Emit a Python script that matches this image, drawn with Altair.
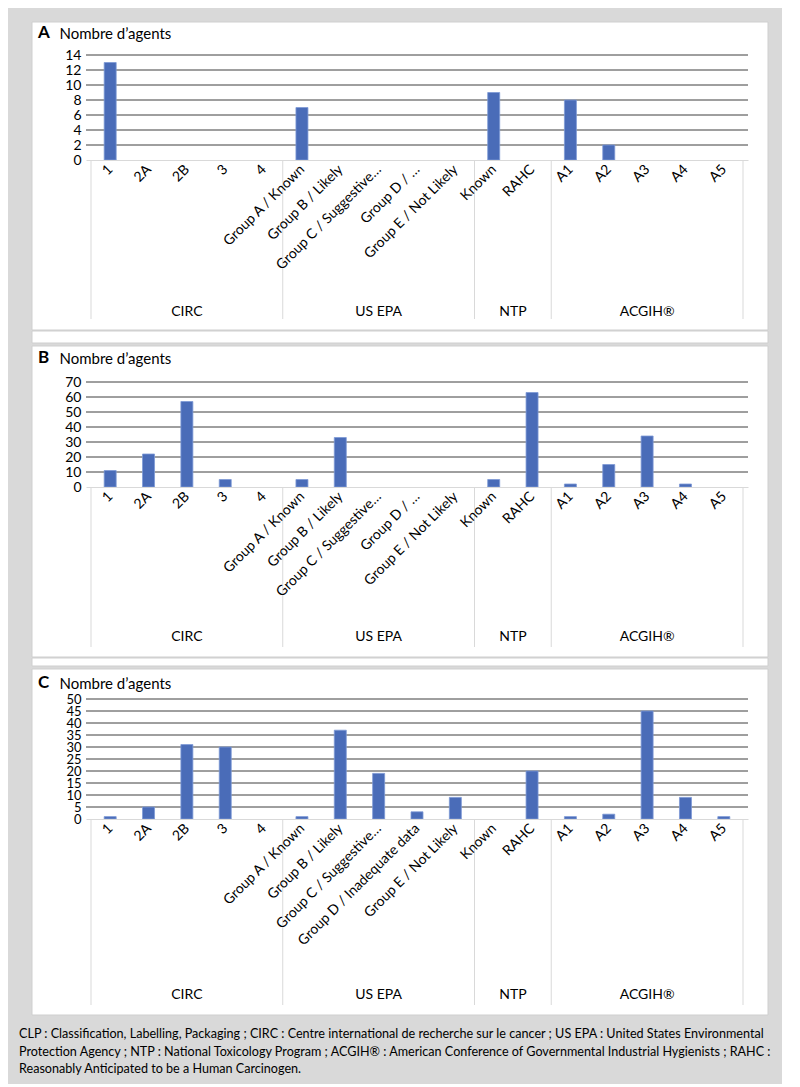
import json
import altair as alt
import pandas as pd

# ---------------- data ----------------
labels_AB = ["1", "2A", "2B", "3", "4",
             "Group A / Known", "Group B / Likely", "Group C / Suggestive…",
             "Group D / …", "Group E / Not Likely",
             "Known", "RAHC",
             "A1", "A2", "A3", "A4", "A5"]
labels_C = ["1", "2A", "2B", "3", "4",
            "Group A / Known", "Group B / Likely", "Group C / Suggestive…",
            "Group D / Inadequate data", "Group E / Not Likely",
            "Known", "RAHC",
            "A1", "A2", "A3", "A4", "A5"]

values_A = [13, 0, 0, 0, 0, 7, 0, 0, 0, 0, 9, 0, 8, 2, 0, 0, 0]
values_B = [11, 22, 57, 5, 0, 5, 33, 0, 0, 0, 5, 63, 2, 15, 34, 2, 0]
values_C = [1, 5, 31, 30, 0, 1, 37, 19, 3, 9, 0, 20, 1, 2, 45, 9, 1]

groups = ["CIRC", "US EPA", "NTP", "ACGIH®"]
group_sizes = [5, 5, 2, 5]

y_title = "Nombre d’agents"
caption_lines = [
    "CLP : Classification, Labelling, Packaging ; CIRC : Centre international de recherche sur le cancer ; US EPA : United States Environmental",
    "Protection Agency ; NTP : National Toxicology Program ; ACGIH® : American Conference of Governmental Industrial Hygienists ; RAHC :",
    "Reasonably Anticipated to be a Human Carcinogen.",
]

# ---------------- style ----------------
FONT = "Lato"
BAR_FILL = "#4a6cb8"
BAR_STROKE = "#7d99d6"
GRID = "#3f3f3f"
SEP = "#d9d9d9"
W = 662


def panel(letter, labels, values, ymax, ystep, h, rect_top, rect_bottom,
          strip, title_y, glabel_y, sep_len, ylab_size=14, caption=None):
    n = len(labels)
    df = pd.DataFrame({"pos": [i + 0.5 for i in range(n)], "value": values})
    xscale = alt.Scale(domain=[0, n], nice=False, zero=False)
    yscale = alt.Scale(domain=[0, ymax], nice=False)

    bounds = [0]
    for s in group_sizes:
        bounds.append(bounds[-1] + s)
    centers = [(bounds[i] + bounds[i + 1]) / 2 for i in range(len(groups))]
    gdf = pd.DataFrame({"group": groups, "center": centers})
    bdf = pd.DataFrame({"b": bounds})
    grid_df = pd.DataFrame({"v": list(range(ystep, ymax + 1, ystep))})
    one = pd.DataFrame({"k": [0]})

    label_expr = json.dumps(labels, ensure_ascii=False) + "[floor(datum.value)]"
    xaxis = alt.Axis(
        values=[i + 0.5 for i in range(n)], labelExpr=label_expr,
        labelAngle=315, labelAlign="right", labelBaseline="middle",
        labelPadding=7, labelFont=FONT, labelFontSize=14, labelColor="black",
        labelOverlap=False, labelFlush=False, ticks=False, grid=False,
        domain=True, domainColor=SEP, domainWidth=1, title=None, zindex=1)
    yaxis = alt.Axis(
        values=list(range(0, ymax + 1, ystep)), grid=False, domain=False, ticks=False,
        labelFont=FONT, labelFontSize=ylab_size, labelColor="black", labelPadding=5,
        labelFlush=False, labelOverlap=False,
        title=y_title, titleAngle=0, titleAlign="left", titleBaseline="alphabetic",
        titleX=-27, titleY=title_y, titleFont=FONT, titleFontSize=15,
        titleFontWeight="normal", titleColor="black", zindex=1)

    layers = [alt.Chart(one).mark_rect(fill="white", stroke="#cfcfcf", strokeWidth=1).encode(
        x=alt.value(-54), x2=alt.value(W + 20),
        y=alt.value(rect_top), y2=alt.value(rect_bottom))]
    if strip is not None:
        layers.append(alt.Chart(one).mark_rect(fill="white", stroke="#cfcfcf", strokeWidth=1).encode(
            x=alt.value(-54), x2=alt.value(W + 20),
            y=alt.value(strip[0]), y2=alt.value(strip[1])))

    bars = alt.Chart(df).transform_filter("datum.value > 0").mark_bar(
        size=12, fill=BAR_FILL, stroke=BAR_STROKE, strokeWidth=0.8
    ).encode(
        x=alt.X("pos:Q", scale=xscale, axis=xaxis),
        y=alt.Y("value:Q", scale=yscale, axis=yaxis),
    )
    grid = alt.Chart(grid_df).mark_rule(color=GRID, strokeWidth=1).encode(
        y=alt.Y("v:Q", scale=yscale, axis=yaxis),
        x=alt.value(0), x2=alt.value(W))
    seps = alt.Chart(bdf).mark_rule(color=SEP, strokeWidth=1).encode(
        x=alt.X("b:Q", scale=xscale, axis=xaxis),
        y=alt.value(h), y2=alt.value(h + sep_len))
    glabels = alt.Chart(gdf).mark_text(font=FONT, fontSize=14, color="black",
                                       align="center", baseline="alphabetic").encode(
        x=alt.X("center:Q", scale=xscale, axis=xaxis),
        y=alt.value(glabel_y), text="group:N")
    letter_t = alt.Chart(pd.DataFrame({"t": [letter]})).mark_text(
        font=FONT, fontSize=17, fontWeight="bold", color="black",
        align="left", baseline="alphabetic").encode(
        x=alt.value(-48), y=alt.value(title_y), text="t:N")

    layers += [grid, seps, bars, glabels, letter_t]

    if caption is not None:
        for i, line in enumerate(caption):
            layers.append(alt.Chart(pd.DataFrame({"t": [line]})).mark_text(
                font=FONT, fontSize=12.6, color="black", align="left",
                baseline="middle").encode(
                x=alt.value(-67), y=alt.value(rect_bottom + 19 + 17.5 * i), text="t:N"))
    return alt.layer(*layers).properties(width=W, height=h)


pA = panel("A", labels_AB, values_A, 14, 2, 105, -33, 275, (276, 288), -17, 261, 159)
pB = panel("B", labels_AB, values_B, 70, 10, 105, -36, 275, (276, 284), -19, 259, 160)
pC = panel("C", labels_C, values_C, 50, 5, 120, -30, 316, None, -11, 300, 186,
           ylab_size=13, caption=caption_lines)

chart = alt.vconcat(pA, pB, pC, spacing=1).properties(
    background="#d9d9d9",
    padding={"top": 13, "left": 11, "right": 8, "bottom": 8},
).configure_view(strokeWidth=0)

chart.save("out.html", embed_options={"renderer": "svg", "actions": False})
